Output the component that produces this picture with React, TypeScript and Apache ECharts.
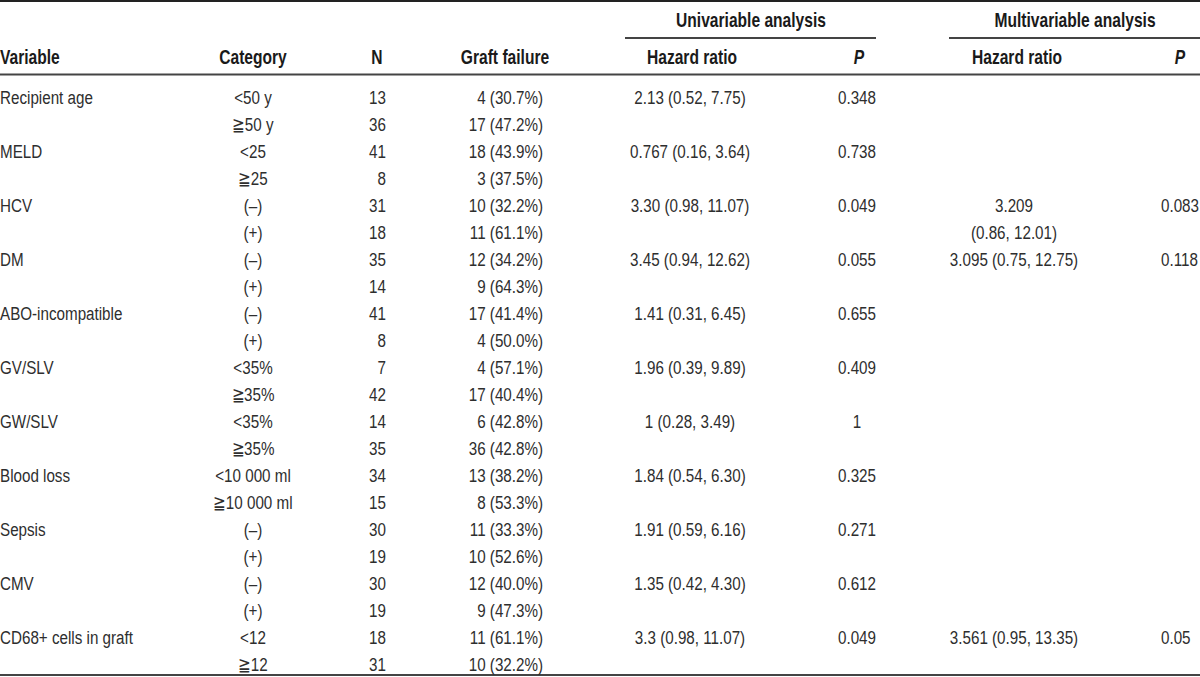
import React, { useEffect, useRef } from "react";
import * as echarts from "echarts";

const variables = [
  "Recipient age",
  "MELD",
  "HCV",
  "DM",
  "ABO-incompatible",
  "GV/SLV",
  "GW/SLV",
  "Blood loss",
  "Sepsis",
  "CMV",
  "CD68+ cells in graft",
];
const categories = [
  "<50 y", "≧50 y",
  "<25", "≧25",
  "(–)", "(+)",
  "(–)", "(+)",
  "(–)", "(+)",
  "<35%", "≧35%",
  "<35%", "≧35%",
  "<10 000 ml", "≧10 000 ml",
  "(–)", "(+)",
  "(–)", "(+)",
  "<12", "≧12",
];
const nValues = [13, 36, 41, 8, 31, 18, 35, 14, 41, 8, 7, 42, 14, 35, 34, 15, 30, 19, 30, 19, 18, 31];
const graftFailure = [
  "4 (30.7%)", "17 (47.2%)",
  "18 (43.9%)", "3 (37.5%)",
  "10 (32.2%)", "11 (61.1%)",
  "12 (34.2%)", "9 (64.3%)",
  "17 (41.4%)", "4 (50.0%)",
  "4 (57.1%)", "17 (40.4%)",
  "6 (42.8%)", "36 (42.8%)",
  "13 (38.2%)", "8 (53.3%)",
  "11 (33.3%)", "10 (52.6%)",
  "12 (40.0%)", "9 (47.3%)",
  "11 (61.1%)", "10 (32.2%)",
];
const uniHR = [
  "2.13 (0.52, 7.75)",
  "0.767 (0.16, 3.64)",
  "3.30 (0.98, 11.07)",
  "3.45 (0.94, 12.62)",
  "1.41 (0.31, 6.45)",
  "1.96 (0.39, 9.89)",
  "1 (0.28, 3.49)",
  "1.84 (0.54, 6.30)",
  "1.91 (0.59, 6.16)",
  "1.35 (0.42, 4.30)",
  "3.3 (0.98, 11.07)",
];
const uniP = ["0.348", "0.738", "0.049", "0.055", "0.655", "0.409", "1", "0.325", "0.271", "0.612", "0.049"];
const multiHR = [
  "", "", "3.209\n(0.86, 12.01)", "3.095 (0.75, 12.75)", "", "", "", "", "", "", "3.561 (0.95, 13.35)",
];
const multiP = ["", "", "0.083", "0.118", "", "", "", "", "", "", "0.05"];

const headerGroups = ["Univariable analysis", "Multivariable analysis"];
const headers = ["Variable", "Category", "N", "Graft failure", "Hazard ratio", "P", "Hazard ratio", "P"];

const FONT = '"Liberation Sans", Arial, sans-serif';

export default function App() {
  const ref = useRef<HTMLDivElement>(null);

  useEffect(() => {
    if (!ref.current) return;
    const chart = echarts.init(ref.current, undefined, { renderer: "svg" });

    const rowY0 = 97;
    const rowH = 27;
    const regSize = 19;
    const boldSize = 19.5;
    const squeeze = 0.8;
    const regColor = "#2e2e2e";
    const boldColor = "#1a1a1a";
    const lineColor = "#444";

    // column layout: [x, align]
    const cols: [number, string][] = [
      [0, "left"],
      [253, "center"],
      [386, "right"],
      [543, "right"],
      [690, "center"],
      [857, "center"],
      [1014, "center"],
      [1161, "left"],
    ];
    const headerCols: [number, string][] = [
      [0, "left"],
      [253, "center"],
      [377, "center"],
      [505, "center"],
      [692, "center"],
      [859, "center"],
      [1017, "center"],
      [1180, "center"],
    ];

    const els: any[] = [];
    const txt = (x: number, y: number, s: string, align: string, bold = false, italic = false) => {
      els.push({
        type: "text",
        x,
        y,
        scaleX: squeeze,
        silent: true,
        style: {
          text: s,
          align,
          verticalAlign: "middle",
          fontFamily: FONT,
          fontSize: bold ? boldSize : regSize,
          fontWeight: bold ? "bold" : "normal",
          fontStyle: italic ? "italic" : "normal",
          fill: bold ? boldColor : regColor,
        },
      });
    };
    const line = (x1: number, y: number, x2: number, w: number, c = lineColor) => {
      els.push({
        type: "line",
        silent: true,
        shape: { x1, y1: y, x2, y2: y },
        style: { stroke: c, lineWidth: w },
      });
    };

    // rules
    line(0, 1, 1200, 2, "#222");
    line(625, 38, 876, 2);
    line(949, 38, 1200, 2);
    line(0, 74.5, 1200, 2);
    line(0, 675, 1200, 2);

    // header groups
    txt(751, 20, headerGroups[0], "center", true);
    txt(1075, 20, headerGroups[1], "center", true);
    headers.forEach((h, i) => {
      txt(headerCols[i][0], 57, h, headerCols[i][1], true, h === "P");
    });

    // body
    categories.forEach((c, r) => {
      const y = rowY0 + r * rowH;
      txt(cols[1][0], y, c, cols[1][1]);
      txt(cols[2][0], y, String(nValues[r]), cols[2][1]);
      txt(cols[3][0], y, graftFailure[r], cols[3][1]);
    });
    variables.forEach((v, i) => {
      const y = rowY0 + i * 2 * rowH;
      txt(cols[0][0], y, v, cols[0][1]);
      txt(cols[4][0], y, uniHR[i], cols[4][1]);
      txt(cols[5][0], y, uniP[i], cols[5][1]);
      if (multiHR[i]) {
        multiHR[i].split("\n").forEach((part, k) => {
          txt(cols[6][0], y + k * rowH, part, cols[6][1]);
        });
      }
      if (multiP[i]) txt(cols[7][0], y, multiP[i], cols[7][1]);
    });

    chart.setOption({
      animation: false,
      backgroundColor: "#ffffff",
      graphic: { elements: els },
    });

    return () => chart.dispose();
  }, []);

  return (
    <div
      ref={ref}
      style={{ position: "fixed", left: 0, top: 0, width: 1200, height: 677, background: "#fff" }}
    />
  );
}
